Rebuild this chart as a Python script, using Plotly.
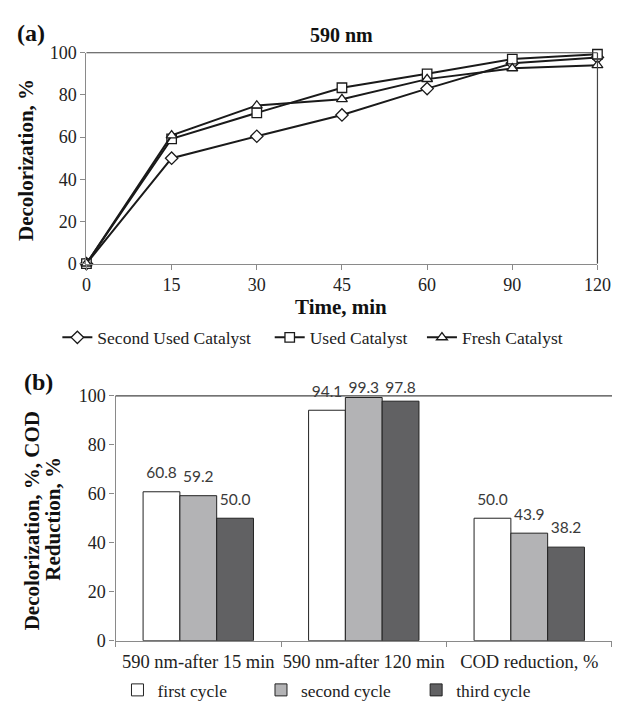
import plotly.graph_objects as go

# ---------------- data ----------------
time_labels = ["0", "15", "30", "45", "60", "90", "120"]
second_used = [0, 50.0, 60.4, 70.5, 83.0, 95.0, 97.8]
used = [0, 59.2, 71.5, 83.4, 90.0, 97.0, 99.3]
fresh = [0, 60.8, 75.0, 78.0, 87.5, 92.6, 94.1]

categories = ["590 nm-after 15 min", "590 nm-after 120 min", "COD reduction, %"]
first_cycle = [60.8, 94.1, 50.0]
second_cycle = [59.2, 99.3, 43.9]
third_cycle = [50.0, 97.8, 38.2]

W, H = 626, 708
SERIF = "Liberation Serif, Times New Roman, Times, DejaVu Serif, serif"
SANS = "Lato, Carlito, Open Sans, sans-serif"
AXC = "#8a8a8a"
INK = "#1a1a1a"
LABEL_CAP = 95.5  # value labels are kept inside the plot area, like the original

def px_x(p):
    return p / W

def px_y(p):
    return 1 - p / H

fig = go.Figure()

line_series = [
    ("Second Used Catalyst", second_used, "diamond", "legend"),
    ("Used Catalyst", used, "square", "legend5"),
    ("Fresh Catalyst", fresh, "triangle-up", "legend6"),
]
for name, vals, sym, lg in line_series:
    fig.add_trace(go.Scatter(
        x=time_labels, y=vals, name=name, mode="lines+markers",
        offsetgroup="lines", alignmentgroup="lines",
        line=dict(color=INK, width=2),
        marker=dict(symbol=sym, size=9.5, color="white",
                    line=dict(color=INK, width=1.3)),
        cliponaxis=False, xaxis="x", yaxis="y", legend=lg,
    ))

bar_series = [
    ("first cycle", first_cycle, "#ffffff", "legend2"),
    ("second cycle", second_cycle, "#b3b3b5", "legend3"),
    ("third cycle", third_cycle, "#616163", "legend4"),
]
for i, (name, vals, col, lg) in enumerate(bar_series):
    fig.add_trace(go.Bar(
        x=categories, y=vals, name=name, offsetgroup=str(i),
        marker=dict(color=col, line=dict(color="#222222", width=1)),
        cliponaxis=False, xaxis="x2", yaxis="y2", legend=lg,
    ))
# value labels, grouped like the bars
for i, (name, vals, col, lg) in enumerate(bar_series):
    fig.add_trace(go.Scatter(
        x=categories, y=[min(v, LABEL_CAP) for v in vals],
        mode="markers+text", offsetgroup=str(i),
        text=[f"{v:.1f}" for v in vals], textposition="top center",
        marker=dict(size=14, color="rgba(0,0,0,0)"),
        textfont=dict(family=SANS, size=15.5, color="#3a3a3a"),
        cliponaxis=False, xaxis="x2", yaxis="y2", showlegend=False,
        hoverinfo="skip",
    ))

axis_common = dict(
    showline=True, linecolor=AXC, linewidth=1.3, ticks="outside",
    tickcolor=AXC, ticklen=5, showgrid=False, zeroline=False,
)

def legend_at(x, y):
    return dict(orientation="h", x=px_x(x), xanchor="left", y=px_y(y),
                yanchor="middle", font=dict(family=SERIF, size=17.5, color="#222"),
                bgcolor="rgba(0,0,0,0)")

fig.update_layout(
    width=W, height=H, margin=dict(l=0, r=0, t=0, b=0),
    paper_bgcolor="white", plot_bgcolor="white",
    barmode="group", bargap=0.333, bargroupgap=0,
    scattermode="group", scattergap=0.333,
    xaxis=dict(domain=[px_x(84), px_x(611)], anchor="y", type="category",
               range=[0, 6], tickangle=0,
               tickfont=dict(family=SERIF, size=18, color="#222"),
               **axis_common),
    yaxis=dict(domain=[px_y(261), px_y(44)], anchor="x", range=[0, 100],
               dtick=20, tickfont=dict(family=SERIF, size=18, color="#222"),
               **axis_common),
    xaxis2=dict(domain=[px_x(114), 1.0], anchor="y2", type="category",
                tickson="boundaries", tickangle=0, ticklabelstandoff=4,
                tickfont=dict(family=SERIF, size=18.5, color="#222"),
                **axis_common),
    yaxis2=dict(domain=[px_y(649), px_y(397)], anchor="x2", range=[0, 100],
                dtick=20, tickfont=dict(family=SERIF, size=18, color="#222"),
                **axis_common),
    legend=legend_at(54, 337),
    legend5=legend_at(273, 337),
    legend6=legend_at(430, 337),
    legend2=legend_at(116, 700),
    legend3=legend_at(264, 700),
    legend4=legend_at(424, 700),
    showlegend=True,
)

# frame lines (top/right) drawn in axis-domain coordinates
fig.add_shape(type="line", xref="x domain", yref="y domain", x0=0, x1=1, y0=1, y1=1,
              line=dict(color="#444", width=1.2))
fig.add_shape(type="line", xref="x domain", yref="y domain", x0=1, x1=1, y0=0, y1=1,
              line=dict(color="#444", width=1.2))
fig.add_shape(type="line", xref="x2 domain", yref="y2 domain", x0=0, x1=1, y0=1, y1=1,
              line=dict(color="#444", width=1.2))

def ann(text, x, y, size, angle=0, xanchor="center"):
    fig.add_annotation(text=text, x=px_x(x), y=px_y(y), xref="paper", yref="paper",
                       showarrow=False, textangle=angle, xanchor=xanchor,
                       yanchor="middle", align="center",
                       font=dict(family=SERIF, size=size, color="#111"))

ann("<b>(a)</b>", 10, 24, 24, xanchor="left")
ann("<b>590 nm</b>", 347, 26, 20)
ann("<b>Time, min</b>", 347, 306, 21)
ann("<b>Decolorization, %</b>", 21, 154, 21, angle=-90)
ann("<b>(b)</b>", 18, 383, 24, xanchor="left")
ann("<b>Decolorization, %, COD</b>", 28, 526, 21, angle=-90)
ann("<b>Reduction, %</b>", 50, 523, 21, angle=-90)

fig.write_html("out.html")
